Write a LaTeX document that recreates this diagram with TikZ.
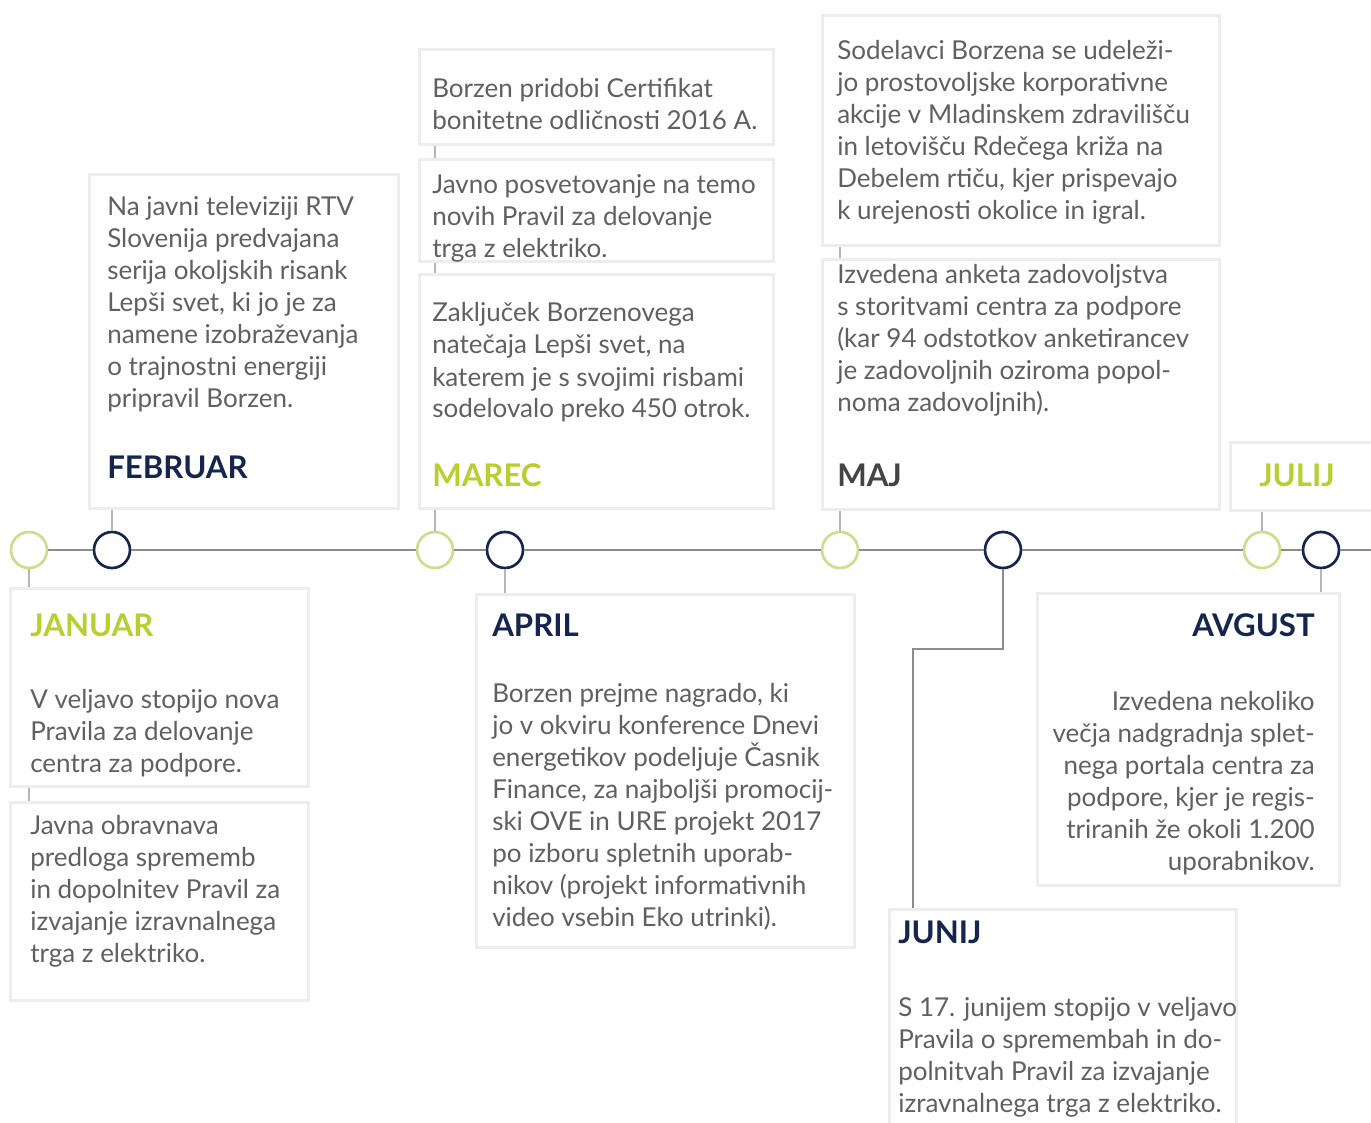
\documentclass[tikz,border=0pt]{standalone}
\usepackage{fontspec}
\setmainfont{Lato}
\definecolor{navy}{RGB}{22,37,77}
\definecolor{lime}{RGB}{184,207,47}
\definecolor{ringgreen}{RGB}{200,224,140}
\definecolor{textgray}{RGB}{96,96,96}
\definecolor{majgray}{RGB}{68,68,68}
\definecolor{boxline}{RGB}{237,237,237}
\definecolor{axisgray}{RGB}{140,140,140}
\definecolor{tickgray}{RGB}{182,182,182}
\newcommand{\blockl}[1]{\parbox[t]{400pt}{\raggedright #1}}
\newcommand{\blockr}[1]{\parbox[t]{400pt}{\raggedleft #1}}
\tikzset{
  box/.style={draw=boxline, fill=white, line width=2pt, inner sep=0pt, anchor=north west},
  ring/.style={circle, fill=white, line width=2pt, minimum size=27pt, inner sep=0pt},
  body/.style={anchor=base west, inner sep=0pt, text=textgray, font=\fontsize{19.5}{24}\selectfont},
  month/.style={anchor=base west, inner sep=0pt, font=\fontsize{23.4}{24}\selectfont\bfseries},
  tick/.style={draw=tickgray, line width=1.5pt},
  axis/.style={draw=axisgray, line width=1.8pt},
}
\begin{document}
\begin{tikzpicture}[x=0.75pt,y=0.75pt,yscale=-1,xscale=1]
\useasboundingbox (0,0) rectangle (1371,1123);

%Shape: Circle [id:cjan] 
\node [ring, draw=ringgreen] (cjan) at (29,550) {};
%Shape: Circle [id:cfeb] 
\node [ring, draw=navy] (cfeb) at (112,550) {};
%Shape: Circle [id:cmar] 
\node [ring, draw=ringgreen] (cmar) at (435,550) {};
%Shape: Circle [id:capr] 
\node [ring, draw=navy] (capr) at (505,550) {};
%Shape: Circle [id:cmaj] 
\node [ring, draw=ringgreen] (cmaj) at (840,550) {};
%Shape: Circle [id:cjun] 
\node [ring, draw=navy] (cjun) at (1003,550) {};
%Shape: Circle [id:cjul] 
\node [ring, draw=ringgreen] (cjul) at (1262,550) {};
%Shape: Circle [id:cavg] 
\node [ring, draw=navy] (cavg) at (1321,550) {};
\coordinate (tlend) at (1371,550);
\coordinate (junbend) at (913,649);

%Shape: Rectangle [id:jan1] 
\node [box, minimum width=298*0.75pt, minimum height=198*0.75pt] (jan1) at (9,587) {};
%Shape: Rectangle [id:jan2] 
\node [box, minimum width=298*0.75pt, minimum height=198*0.75pt] (jan2) at (9,801) {};
%Shape: Rectangle [id:feb] 
\node [box, minimum width=309*0.75pt, minimum height=334*0.75pt] (feb) at (88,173) {};
%Shape: Rectangle [id:mar1] 
\node [box, minimum width=354*0.75pt, minimum height=95*0.75pt] (mar1) at (418,48) {};
%Shape: Rectangle [id:mar2] 
\node [box, minimum width=354*0.75pt, minimum height=102*0.75pt] (mar2) at (418,158) {};
%Shape: Rectangle [id:mar3] 
\node [box, minimum width=354*0.75pt, minimum height=234*0.75pt] (mar3) at (418,273) {};
%Shape: Rectangle [id:apr] 
\node [box, minimum width=378*0.75pt, minimum height=353*0.75pt] (apr) at (475,593) {};
%Shape: Rectangle [id:maj1] 
\node [box, minimum width=397*0.75pt, minimum height=230*0.75pt] (maj1) at (821,14) {};
%Shape: Rectangle [id:maj2] 
\node [box, minimum width=397*0.75pt, minimum height=250*0.75pt] (maj2) at (821,258) {};
%Shape: Rectangle [id:jul] 
\node [box, minimum width=160*0.75pt, minimum height=68*0.75pt] (jul) at (1229,441) {};
%Shape: Rectangle [id:avg] 
\node [box, minimum width=302*0.75pt, minimum height=292*0.75pt] (avg) at (1036,592) {};
%Shape: Rectangle [id:jun] 
\node [box, minimum width=347*0.75pt, minimum height=240*0.75pt] (jun) at (888,908) {};

%Straight Lines [id:timeline] 
\draw [axis] (cjan) -- (cfeb) -- (cmar) -- (capr) -- (cmaj) -- (cjun) -- (cjul) -- (cavg) -- (tlend) ;
%Straight Lines [id:elbow] 
\draw [axis] (cjun.south) |- (junbend) -- (junbend |- jun.north) ;
%Straight Lines [id:ticks] 
\draw [tick] (cjan.south) -- (cjan.south |- jan1.north) ;
\draw [tick] (jan1.south -| cjan) -- (jan2.north -| cjan) ;
\draw [tick] (cfeb.north) -- (cfeb.north |- feb.south) ;
\draw [tick] (cmar.north) -- (cmar.north |- mar3.south) ;
\draw [tick] (mar3.north -| cmar) -- (mar2.south -| cmar) ;
\draw [tick] (mar2.north -| cmar) -- (mar1.south -| cmar) ;
\draw [tick] (capr.south) -- (capr.south |- apr.north) ;
\draw [tick] (cmaj.north) -- (cmaj.north |- maj2.south) ;
\draw [tick] (maj2.north -| cmaj) -- (maj1.south -| cmaj) ;
\draw [tick] (cjul.north) -- (cjul.north |- jul.south) ;
\draw [tick] (cavg.south) -- (cavg.south |- avg.north) ;

% Text Node
\draw (30,636) node [month, text=lime] (tjan) {JANUAR};
% Text Node
\draw (30,708) node [body] (bjan1) {\blockl{V veljavo stopijo nova\\Pravila za delovanje\\centra za podpore.}};
% Text Node
\draw (30,834) node [body] (bjan2) {\blockl{Javna obravnava\\predloga sprememb\\in dopolnitev Pravil za\\izvajanje izravnalnega\\trga z elektriko.}};
% Text Node
\draw (107,216) node [body] (bfeb) {\blockl{Na javni televiziji RTV\\Slovenija predvajana\\serija okoljskih risank\\Lepši svet, ki jo je za\\namene izobraževanja\\o trajnostni energiji\\pripravil Borzen.}};
% Text Node
\draw (107,478) node [month, text=navy] (tfeb) {FEBRUAR};
% Text Node
\draw (432,98) node [body] (bmar1) {\blockl{Borzen pridobi Certifikat\\bonitetne odličnosti 2016 A.}};
% Text Node
\draw (432,194) node [body] (bmar2) {\blockl{Javno posvetovanje na temo\\novih Pravil za delovanje\\trga z elektriko.}};
% Text Node
\draw (432,322) node [body] (bmar3) {\blockl{Zaključek Borzenovega\\natečaja Lepši svet, na\\katerem je s svojimi risbami\\sodelovalo preko 450 otrok.}};
% Text Node
\draw (432,486) node [month, text=lime] (tmar) {MAREC};
% Text Node
\draw (492,636) node [month, text=navy] (tapr) {APRIL};
% Text Node
\draw (492,702) node [body] (bapr) {\blockl{Borzen prejme nagrado, ki\\jo v okviru konference Dnevi\\energetikov podeljuje Časnik\\Finance, za najboljši promocij-\\ski OVE in URE projekt 2017\\po izboru spletnih uporab-\\nikov (projekt informativnih\\video vsebin Eko utrinki).}};
% Text Node
\draw (837,60) node [body] (bmaj1) {\blockl{Sodelavci Borzena se udeleži-\\jo prostovoljske korporativne\\akcije v Mladinskem zdravilišču\\in letovišču Rdečega križa na\\Debelem rtiču, kjer prispevajo\\k urejenosti okolice in igral.}};
% Text Node
\draw (837,284) node [body] (bmaj2) {\blockl{Izvedena anketa zadovoljstva\\s storitvami centra za podpore\\(kar 94 odstotkov anketirancev\\je zadovoljnih oziroma popol-\\noma zadovoljnih).}};
% Text Node
\draw (837,486) node [month, text=majgray] (tmaj) {MAJ};
% Text Node
\draw (1259,486) node [month, text=lime] (tjul) {JULIJ};
% Text Node
\draw (1315,636) node [month, text=navy, anchor=base east] (tavg) {AVGUST};
% Text Node
\draw (1315,710) node [body, anchor=base east] (bavg) {\blockr{Izvedena nekoliko\\večja nadgradnja splet-\\nega portala centra za\\podpore, kjer je regis-\\triranih že okoli 1.200\\uporabnikov.}};
% Text Node
\draw (898,943) node [month, text=navy] (tjun) {JUNIJ};
% Text Node
\draw (898,1016) node [body] (bjun) {\blockl{S 17. junijem stopijo v veljavo\\Pravila o spremembah in do-\\polnitvah Pravil za izvajanje\\izravnalnega trga z elektriko.}};

\end{tikzpicture}
\end{document}
